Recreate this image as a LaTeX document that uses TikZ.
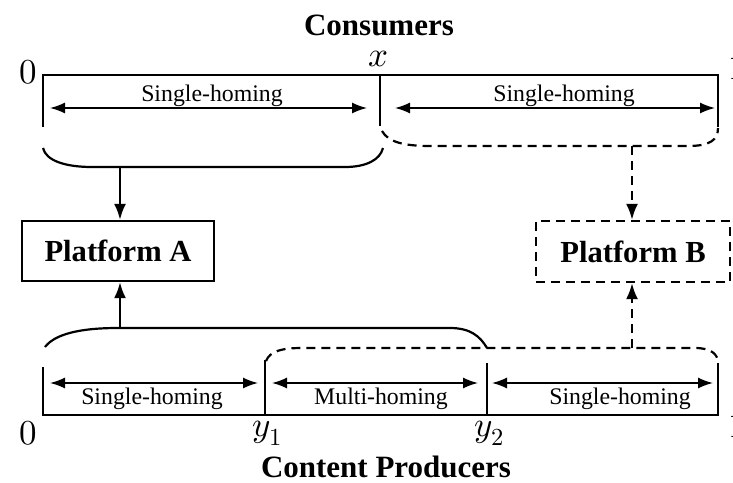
\documentclass[tikz,border=0pt]{standalone}
\usepackage{fontspec}
\usepackage{unicode-math}
\setmainfont{Liberation Serif}
\setmathfont{Latin Modern Math}
\usetikzlibrary{arrows.meta}

\begin{document}
\begin{tikzpicture}[x=0.5pt,y=-0.5pt,
  bar/.style={line width=1.4pt, line join=miter},
  dimarrow/.style={line width=0.75pt, {Latex[length=7.5pt,width=5.5pt]}-{Latex[length=7.5pt,width=5.5pt]}},
  brace/.style={line width=1.1pt},
  dashbrace/.style={line width=1.1pt, dash pattern=on 4.5pt off 3pt},
  flow/.style={line width=1.1pt, -{Latex[length=8pt,width=6pt]}},
  dflow/.style={flow, dash pattern=on 4.5pt off 3pt},
  platform/.style={draw, line width=1.2pt, inner sep=0pt, font=\fontsize{15.3}{18}\selectfont\bfseries},
  seglabel/.style={font=\fontsize{11.9}{14}\selectfont, anchor=base, inner sep=0pt},
  heading/.style={font=\fontsize{15.5}{18}\selectfont\bfseries, anchor=base, inner sep=0pt},
  mathlbl/.style={font=\fontsize{17.5}{20}\selectfont, inner sep=0pt}
]
\useasboundingbox (0,0) rectangle (733,482);

% headings
\node[heading] (cons) at (379,35) {Consumers};
\node[heading] (prod) at (386,477) {Content Producers};

% ---------- consumers bar ----------
\coordinate (ctl) at (43,127);
\coordinate (ctr) at (718,127);
\coordinate (cx) at (380,75);
\coordinate (cxb) at (380,126);
\draw[bar] (ctl) -- (43,75) -- (718,75) -- (ctr);
\draw[bar] (cx) -- (cxb);

\node[mathlbl] (c0) at (28,72) {$0$};
\node[mathlbl] (c1) at (737,68) {$1$};
\node[mathlbl] (cxl) at (379,59) {$x$};

\coordinate (ca1) at (50,108);  \coordinate (ca2) at (367,108);
\coordinate (ca3) at (395,108); \coordinate (ca4) at (715,108);
\draw[dimarrow] (ca1) -- (ca2);
\draw[dimarrow] (ca3) -- (ca4);
\node[seglabel] (cs1) at (212,101) {Single-homing};
\node[seglabel] (cs2) at (564,101) {Single-homing};

% ---------- platforms ----------
\node[platform, minimum width=96pt, minimum height=30pt] (pa) at (118,251) {Platform A};
\node[platform, dash pattern=on 4.5pt off 3pt, minimum width=97pt, minimum height=30.5pt] (pb) at (633,251.5) {Platform B};

% ---------- consumer braces ----------
\coordinate (cb1) at (120,167);
\draw[brace] (43,148) .. controls (46,161) and (66,167) .. (92,167)
  -- (345,167) .. controls (366,167) and (380,160) .. (383,148);
\draw[flow] (cb1) -- (cb1 |- pa.north);

\coordinate (cb2) at (632,146);
\draw[dashbrace] (382,131) .. controls (388,142) and (404,146) .. (430,146)
  -- (688,146) .. controls (710,146) and (718,140) .. (718,128);
\draw[dflow] (cb2) -- (cb2 |- pb.north);

% ---------- producer braces ----------
\coordinate (pb1) at (120,328);
\draw[brace] (45,347) .. controls (55,334) and (80,328) .. (118,328)
  -- (450,328) .. controls (470,328) and (480,336) .. (487,348);
\draw[flow] (pb1) -- (pb1 |- pa.south);

\coordinate (pb2) at (632,348);
\draw[dashbrace] (266,361) .. controls (270,351) and (282,348) .. (302,348)
  -- (695,348) .. controls (711,348) and (718,354) .. (718,363);
\draw[dflow] (pb2) -- (pb2 |- pb.south);

% ---------- producers bar ----------
\coordinate (ptl) at (43,367);
\coordinate (ptr) at (718,363);
\coordinate (py1) at (265,360);
\coordinate (py2) at (487,363);
\draw[bar] (ptl) -- (43,415) -- (718,415) -- (ptr);
\draw[bar] (py1) -- (py1 |- 0,415);
\draw[bar] (py2) -- (py2 |- 0,415);

\node[mathlbl] (p0) at (28,433) {$0$};
\node[mathlbl] (p1) at (737,426) {$1$};
\node[mathlbl] (py1l) at (268,433) {$y_1$};
\node[mathlbl] (py2l) at (490,433) {$y_2$};

\coordinate (pa1) at (50,383);  \coordinate (pa2) at (258,383);
\coordinate (pa3) at (272,383); \coordinate (pa4) at (478,383);
\coordinate (pa5) at (492,383); \coordinate (pa6) at (713,383);
\draw[dimarrow] (pa1) -- (pa2);
\draw[dimarrow] (pa3) -- (pa4);
\draw[dimarrow] (pa5) -- (pa6);
\node[seglabel] (ps1) at (152,404) {Single-homing};
\node[seglabel] (ps2) at (381,404) {Multi-homing};
\node[seglabel] (ps3) at (620,404) {Single-homing};
\end{tikzpicture}
\end{document}
